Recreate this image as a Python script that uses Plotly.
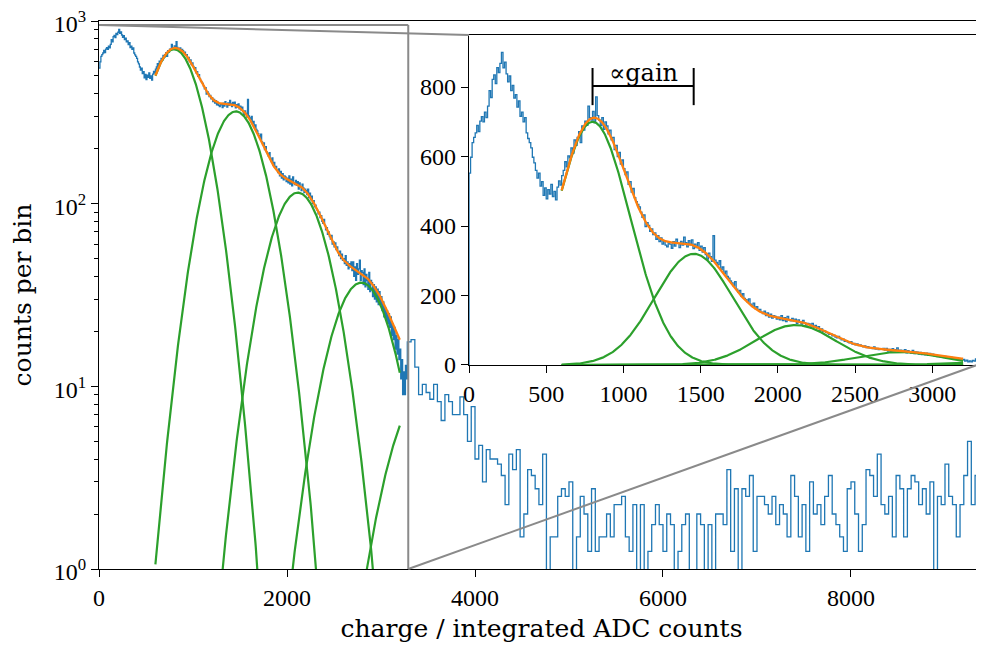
import numpy as np
import plotly.graph_objects as go

# ---------------- data ----------------
fine_width = 10          # bin width of the fine histogram (ADC counts)
fine_counts = [
    552, 598, 640, 655, 668, 690, 672, 702, 715, 700,
    728, 712, 745, 790, 770, 822, 835, 810, 856, 842,
    868, 900, 855, 872, 838, 815, 832, 790, 805, 768,
    778, 742, 760, 716, 728, 700, 712, 668, 652, 640,
    625, 598, 582, 560, 538, 552, 515, 528, 488, 510,
    478, 505, 492, 520, 485, 500, 475, 512, 530, 518,
    545, 560, 585, 570, 602, 596, 625, 610, 648, 632,
    655, 672, 640, 688, 676, 702, 690, 745, 712, 705,
    730, 698, 772, 718, 705, 690, 712, 678, 700, 688,
    665, 676, 648, 655, 620, 632, 600, 612, 578, 590,
    565, 548, 556, 520, 528, 498, 508, 482, 470, 462,
    455, 440, 425, 432, 398, 410, 402, 385, 392, 375,
    380, 362, 372, 355, 366, 348, 358, 345, 340, 352,
    348, 336, 355, 342, 362, 350, 338, 356, 345, 368,
    352, 340, 358, 346, 360, 335, 348, 338, 352, 330,
    342, 325, 338, 318, 305, 322, 312, 298, 372, 302,
    295, 288, 300, 275, 282, 262, 270, 255, 250, 242,
    236, 228, 240, 218, 210, 215, 198, 205, 192, 188,
    182, 190, 175, 170, 178, 162, 168, 158, 160, 152,
    148, 155, 142, 150, 138, 146, 135, 142, 140, 132,
    138, 130, 142, 128, 136, 125, 140, 130, 127, 134,
    126, 132, 120, 130, 124, 118, 128, 122, 115, 120,
    118, 112, 120, 108, 114, 105, 110, 100, 104, 96,
    98, 94, 92, 88, 90, 84, 86, 80, 78, 82,
    76, 72, 74, 68, 70, 66, 64, 67, 60, 62,
    58, 61, 56, 58, 54, 52, 55, 50, 53, 49,
    50, 47, 52, 46, 48, 44, 47, 45, 48, 43,
    48, 40, 45, 38, 47, 41, 44, 49, 38, 43,
    42, 36, 44, 35, 41, 38, 34, 42, 33, 38,
    37, 31, 36, 30, 35, 29, 34, 28, 33, 28,
    31, 26, 29, 24, 27, 23, 26, 22, 25, 21,
    24, 19, 22, 18, 21, 16, 19, 15, 18, 14,
    16, 11, 14, 9, 12, 9, 13, 11,
]
tail_start = 3280        # start of the coarse (rebinned) tail
tail_width = 40
tail_counts = [
    17.5, 18.0, 12.75, 9.0, 10.25, 9.25, 8.5, 10.25, 8.25, 6.5, 9.0, 8.25, 7.0, 7.0, 8.75, 7.0,
    5.0, 7.75, 4.0, 4.75, 3.0, 4.5, 4.0, 4.0, 3.75, 3.25, 2.25, 4.25, 3.5, 4.5,
    1.5, 2.0, 3.5, 3.25, 2.75, 2.25, 4.25, 0.5, 1.5, 1.5, 2.5, 2.75, 2.5, 3.0, 0.5, 1.5, 2.5, 2.0, 1.25, 2.75,
    1.25, 1.5, 1.5, 2.0, 1.5, 2.25, 2.25, 2.5, 1.5, 1.25, 2.25, 0.5, 2.25, 0.5,
    1.25, 1.75, 2.25, 1.75, 1.25, 2.0, 1.75, 0.5, 1.25, 1.75, 2.0, 0.5, 0.5, 2.0, 1.75, 0.5, 1.75, 0.5, 2.0, 2.0,
    1.75, 3.5, 1.25, 2.75, 0.5, 2.75, 2.5, 3.25, 1.25, 2.5, 2.5, 2.25, 2.0, 2.5, 1.75, 2.25, 2.0, 1.5,
    3.25, 2.5, 1.5, 2.25, 1.25, 3.0, 2.0, 2.25, 1.75, 2.5, 3.25, 2.0, 1.75, 1.5, 1.25, 2.75, 3.0, 2.0, 1.25, 1.75,
    3.5, 3.25, 2.5, 4.25, 2.25, 2.0, 2.5, 1.5, 3.25, 2.75, 1.5, 2.75, 3.25, 3.0, 2.25, 2.75, 2.0, 3.0, 0.5, 2.5,
    2.25, 3.75, 2.5, 2.25, 1.5, 2.25, 3.25, 5.0, 2.25, 3.25, 2.25, 4.5,
]

# multi-Gaussian fit components
amps = [700, 320, 115, 37, 9.5]
means = [800, 1455, 2115, 2790, 3480]
sigmas = [245, 253, 260, 272, 297]
fit_range = [600, 3200]

# axis settings
main_xrange = [0, 9415]
main_ylog = [0, 3]
zoom_x = [0, 3290]
zoom_y = [0, 950]
main_xticks = [0, 2000, 4000, 6000, 8000]
main_yticks = [1, 10, 100, 1000]
main_yticktext = ["10<sup>0</sup>", "10<sup>1</sup>", "10<sup>2</sup>", "10<sup>3</sup>"]
inset_xticks = [0, 500, 1000, 1500, 2000, 2500, 3000]
inset_yticks = [0, 200, 400, 600, 800]
gain_bar_y = 803
gain_cap = [748, 855]

BLUE, ORANGE, GREEN = "#1f77b4", "#ff7f0e", "#2ca02c"
FONT = "Liberation Serif"
TFONT = "DejaVu Serif"

# ---------------- build step histogram ----------------
fine_edges = np.arange(len(fine_counts)) * fine_width
tail_edges = tail_start + np.arange(len(tail_counts)) * tail_width
x_step = np.concatenate([fine_edges, tail_edges, [tail_edges[-1] + tail_width]])
y_step = np.concatenate([fine_counts, tail_counts, [tail_counts[-1]]])

xf = np.linspace(fit_range[0], fit_range[1], 600)
comps = [a * np.exp(-(xf - m) ** 2 / (2 * s ** 2)) for a, m, s in zip(amps, means, sigmas)]
total = np.sum(comps, axis=0)

fig = go.Figure()

# main (log) panel
fig.add_trace(go.Scatter(x=x_step, y=y_step, mode="lines", line=dict(color=BLUE, width=1.3, shape="hv"),
                         xaxis="x", yaxis="y", showlegend=False, hoverinfo="skip"))
for c in comps:
    fig.add_trace(go.Scatter(x=xf, y=c, mode="lines", line=dict(color=GREEN, width=2.2),
                             xaxis="x", yaxis="y", showlegend=False, hoverinfo="skip"))
fig.add_trace(go.Scatter(x=xf, y=total, mode="lines", line=dict(color=ORANGE, width=2.3),
                         xaxis="x", yaxis="y", showlegend=False, hoverinfo="skip"))

# inset (linear) panel
fig.add_trace(go.Scatter(x=np.concatenate([[0], x_step]), y=np.concatenate([[0], y_step]), mode="lines",
                         line=dict(color=BLUE, width=1.3, shape="hv"),
                         xaxis="x2", yaxis="y2", showlegend=False, hoverinfo="skip"))
for c in comps:
    fig.add_trace(go.Scatter(x=xf, y=c, mode="lines", line=dict(color=GREEN, width=2.2),
                             xaxis="x2", yaxis="y2", showlegend=False, hoverinfo="skip"))
fig.add_trace(go.Scatter(x=xf, y=total, mode="lines", line=dict(color=ORANGE, width=2.3),
                         xaxis="x2", yaxis="y2", showlegend=False, hoverinfo="skip"))

# gain bracket between first two peaks
m1, m2 = means[0], means[1]
fig.add_trace(go.Scatter(x=[m1, m1, None, m1, m2, None, m2, m2],
                         y=[gain_cap[0], gain_cap[1], None, gain_bar_y, gain_bar_y, None, gain_cap[0], gain_cap[1]],
                         mode="lines", line=dict(color="black", width=2),
                         xaxis="x2", yaxis="y2", showlegend=False, hoverinfo="skip"))
fig.add_annotation(x=(m1 + m2) / 2, y=gain_bar_y, xref="x2", yref="y2", text="∝gain", showarrow=False,
                   yanchor="bottom", yshift=-3, font=dict(family=TFONT, size=24, color="black"))

# inset domain
inset_dx = [0.4181, 0.9921]
inset_dy = [0.3723, 0.9745]

axis_common = dict(showline=True, linecolor="black", linewidth=1.3, ticks="outside", ticklen=7,
                   tickwidth=1.3, tickcolor="black", showgrid=False, zeroline=False, automargin=False,
                   ticklabeloverflow="allow", tickfont=dict(family=FONT, size=24, color="black"))

# page has an 8px body margin: figure is sized so the page fits the 984x651 window
fig.update_layout(
    width=976, height=635,
    margin=dict(l=91, r=0, t=13, b=74, autoexpand=False),
    plot_bgcolor="white", paper_bgcolor="white",
    xaxis=dict(domain=[0, 1], range=main_xrange, tickvals=main_xticks, mirror=True, anchor="y",
               title=dict(text="charge / integrated ADC counts", font=dict(family=TFONT, size=25, color="black"),
                          standoff=12),
               **axis_common),
    yaxis=dict(domain=[0, 1], type="log", range=main_ylog, tickvals=main_yticks, ticktext=main_yticktext,
               anchor="x", ticklabelshift=3,
               minor=dict(ticks="outside", ticklen=4, tickwidth=1, tickcolor="black",
                          tickvals=[k * 10 ** d for d in range(3) for k in range(2, 10)]),
               title=dict(text="counts per bin", font=dict(family=TFONT, size=25, color="black"), standoff=19),
               **axis_common),
    xaxis2=dict(domain=inset_dx, range=zoom_x, tickvals=inset_xticks, anchor="y2", mirror=True, **axis_common),
    yaxis2=dict(domain=inset_dy, range=zoom_y, tickvals=inset_yticks, anchor="x2", mirror=True, **axis_common),
)

# zoom indicator rectangle and connectors (paper coords from the axis scales)
def px_main(v):
    return (v - main_xrange[0]) / (main_xrange[1] - main_xrange[0])

def py_main(v):
    return (np.log10(v) - main_ylog[0]) / (main_ylog[1] - main_ylog[0])

rx1 = px_main(zoom_x[1])
ry1 = py_main(zoom_y[1])
ry0 = 0.0
gray = dict(color="#8a8a8a", width=2)
fig.add_shape(type="line", xref="paper", yref="paper", x0=0, y0=ry1, x1=rx1, y1=ry1, line=gray)
fig.add_shape(type="line", xref="paper", yref="paper", x0=rx1, y0=ry0, x1=rx1, y1=ry1, line=gray)
fig.add_shape(type="line", xref="paper", yref="paper", x0=0, y0=ry1, x1=inset_dx[0], y1=inset_dy[1], line=gray)
fig.add_shape(type="line", xref="paper", yref="paper", x0=rx1, y0=ry0, x1=inset_dx[1], y1=inset_dy[0], line=gray)

fig.write_html("out.html")
